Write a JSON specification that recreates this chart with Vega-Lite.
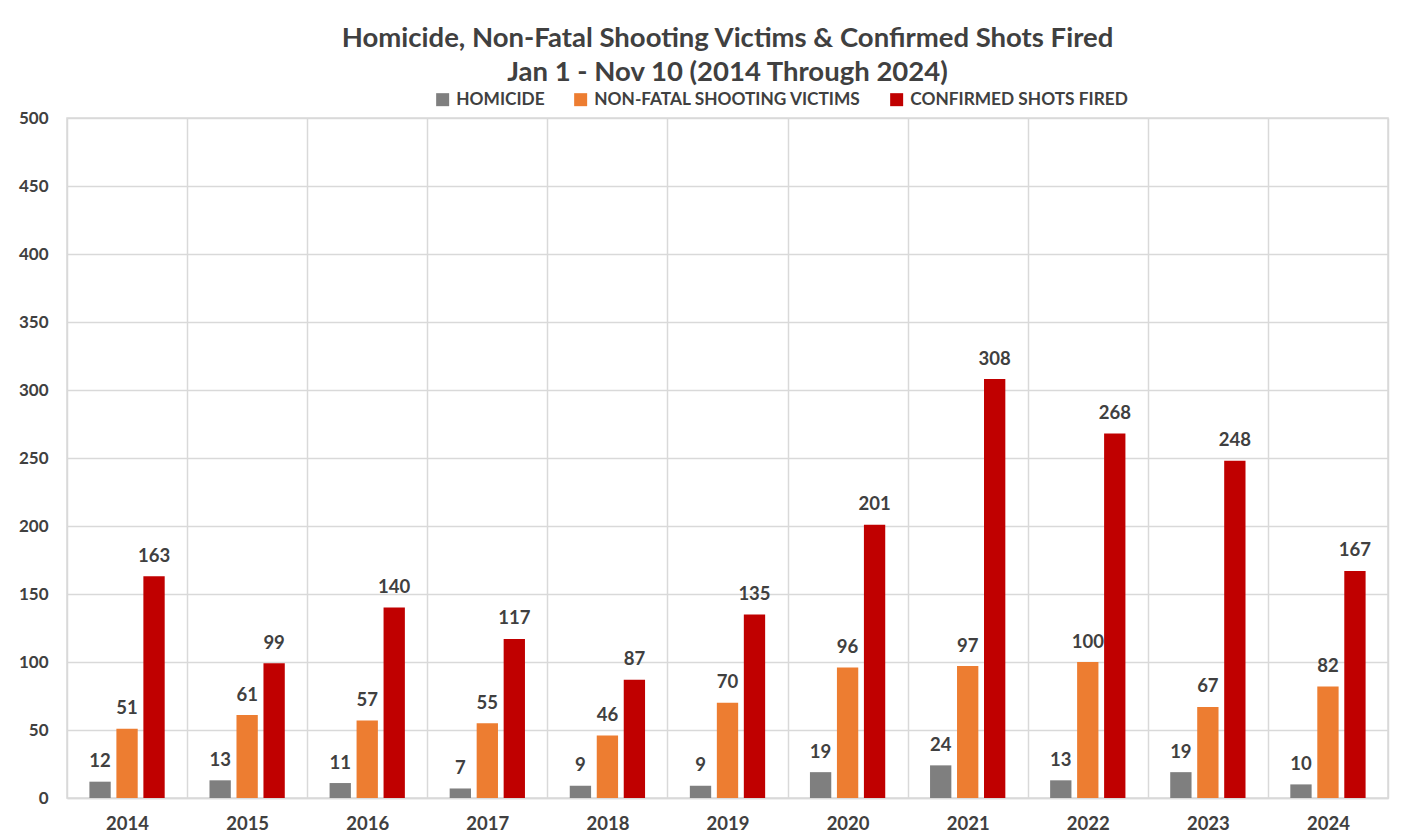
{
  "$schema": "https://vega.github.io/schema/vega-lite/v6.json",
  "width": 1321,
  "height": 680,
  "autosize": {"type": "none"},
  "padding": {"left": 67, "top": 118, "right": 22, "bottom": 37},
  "background": "white",
  "title": {
    "text": ["Homicide, Non-Fatal Shooting Victims & Confirmed Shots Fired", "Jan 1 - Nov 10 (2014 Through 2024)"],
    "font": "Lato",
    "fontSize": 27.5,
    "fontWeight": "bold",
    "color": "#404040",
    "anchor": "middle",
    "frame": "group",
    "lineHeight": 34,
    "offset": 5
  },
  "config": {
    "font": "Lato",
    "view": {"stroke": "#d9d9d9", "strokeWidth": 1.5},
    "axis": {"gridColor": "#d9d9d9", "gridWidth": 1.5, "domainColor": "#d9d9d9", "domainWidth": 1.5}
  },
  "data": {
    "values": [
      {"year": "2014", "series": "HOMICIDE", "value": 12},
      {"year": "2014", "series": "NON-FATAL SHOOTING VICTIMS", "value": 51},
      {"year": "2014", "series": "CONFIRMED SHOTS FIRED", "value": 163},
      {"year": "2015", "series": "HOMICIDE", "value": 13},
      {"year": "2015", "series": "NON-FATAL SHOOTING VICTIMS", "value": 61},
      {"year": "2015", "series": "CONFIRMED SHOTS FIRED", "value": 99},
      {"year": "2016", "series": "HOMICIDE", "value": 11},
      {"year": "2016", "series": "NON-FATAL SHOOTING VICTIMS", "value": 57},
      {"year": "2016", "series": "CONFIRMED SHOTS FIRED", "value": 140},
      {"year": "2017", "series": "HOMICIDE", "value": 7},
      {"year": "2017", "series": "NON-FATAL SHOOTING VICTIMS", "value": 55},
      {"year": "2017", "series": "CONFIRMED SHOTS FIRED", "value": 117},
      {"year": "2018", "series": "HOMICIDE", "value": 9},
      {"year": "2018", "series": "NON-FATAL SHOOTING VICTIMS", "value": 46},
      {"year": "2018", "series": "CONFIRMED SHOTS FIRED", "value": 87},
      {"year": "2019", "series": "HOMICIDE", "value": 9},
      {"year": "2019", "series": "NON-FATAL SHOOTING VICTIMS", "value": 70},
      {"year": "2019", "series": "CONFIRMED SHOTS FIRED", "value": 135},
      {"year": "2020", "series": "HOMICIDE", "value": 19},
      {"year": "2020", "series": "NON-FATAL SHOOTING VICTIMS", "value": 96},
      {"year": "2020", "series": "CONFIRMED SHOTS FIRED", "value": 201},
      {"year": "2021", "series": "HOMICIDE", "value": 24},
      {"year": "2021", "series": "NON-FATAL SHOOTING VICTIMS", "value": 97},
      {"year": "2021", "series": "CONFIRMED SHOTS FIRED", "value": 308},
      {"year": "2022", "series": "HOMICIDE", "value": 13},
      {"year": "2022", "series": "NON-FATAL SHOOTING VICTIMS", "value": 100},
      {"year": "2022", "series": "CONFIRMED SHOTS FIRED", "value": 268},
      {"year": "2023", "series": "HOMICIDE", "value": 19},
      {"year": "2023", "series": "NON-FATAL SHOOTING VICTIMS", "value": 67},
      {"year": "2023", "series": "CONFIRMED SHOTS FIRED", "value": 248},
      {"year": "2024", "series": "HOMICIDE", "value": 10},
      {"year": "2024", "series": "NON-FATAL SHOOTING VICTIMS", "value": 82},
      {"year": "2024", "series": "CONFIRMED SHOTS FIRED", "value": 167}
    ]
  },
  "encoding": {
    "x": {
      "field": "year", "type": "nominal", "title": null,
      "scale": {"paddingInner": 0, "paddingOuter": 0},
      "axis": {
        "labelAngle": 0, "labelFont": "Lato", "labelFontSize": 18.5, "labelFontWeight": "bold",
        "labelColor": "#404040", "labelPadding": 16, "ticks": false, "grid": true,
        "tickBand": "extent", "domain": true
      }
    },
    "xOffset": {
      "field": "series", "type": "nominal",
      "sort": ["HOMICIDE", "NON-FATAL SHOOTING VICTIMS", "CONFIRMED SHOTS FIRED"],
      "scale": {"paddingInner": 0.21, "paddingOuter": 0.83}
    },
    "y": {
      "field": "value", "type": "quantitative", "title": null,
      "scale": {"domain": [0, 500], "nice": false},
      "axis": {
        "values": [0, 50, 100, 150, 200, 250, 300, 350, 400, 450, 500],
        "labelFont": "Lato", "labelFontSize": 17, "labelFontWeight": "bold",
        "labelColor": "#404040", "labelPadding": 19, "ticks": false, "domain": false, "grid": true
      }
    }
  },
  "layer": [
    {
      "mark": {"type": "bar"},
      "encoding": {
        "color": {
          "field": "series", "type": "nominal",
          "sort": ["HOMICIDE", "NON-FATAL SHOOTING VICTIMS", "CONFIRMED SHOTS FIRED"],
          "scale": {"domain": ["HOMICIDE", "NON-FATAL SHOOTING VICTIMS", "CONFIRMED SHOTS FIRED"], "range": ["#7f7f7f", "#ed7d31", "#c00000"]},
          "legend": {
            "orient": "none", "legendX": 367, "legendY": -27, "direction": "horizontal",
            "title": null, "symbolType": "square", "symbolSize": 169, "symbolStrokeWidth": 0,
            "labelFont": "Lato", "labelFontSize": 17.3, "labelFontWeight": "bold", "labelColor": "#404040",
            "labelOffset": 5, "columnPadding": 27, "padding": 0, "labelLimit": 400
          }
        }
      }
    },
    {
      "mark": {"type": "text", "baseline": "alphabetic", "dy": -14.5, "font": "Lato", "fontSize": 18.5, "fontWeight": "bold", "color": "#404040"},
      "encoding": {
        "text": {"field": "value", "type": "quantitative"}
      }
    }
  ]
}
